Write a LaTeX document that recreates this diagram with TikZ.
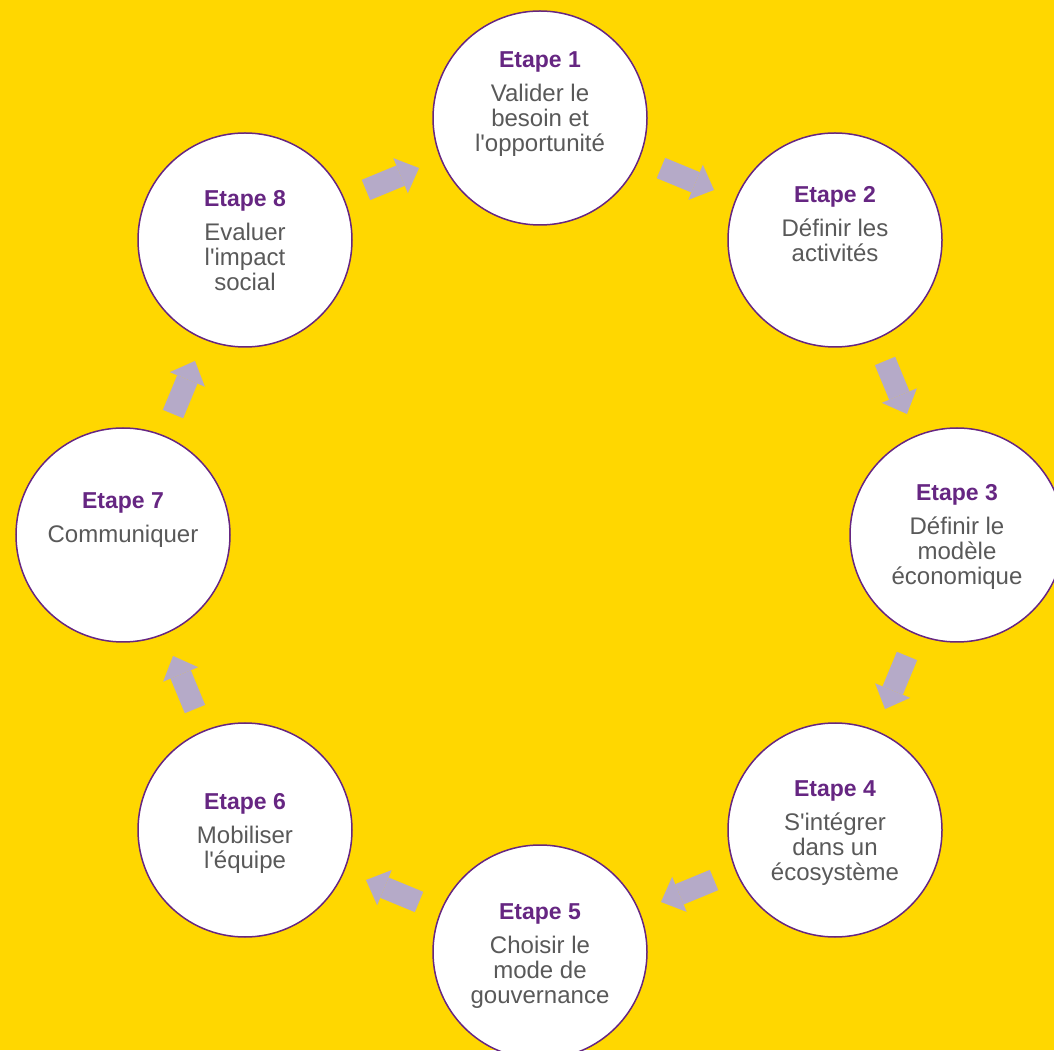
\documentclass[tikz,border=0pt]{standalone}
\usepackage{fontspec}
\setmainfont{Liberation Sans}
\usetikzlibrary{arrows.meta, calc, positioning}
\definecolor{etapeyellow}{RGB}{255,215,0}
\definecolor{etapepurple}{RGB}{102,38,130}
\definecolor{etapegray}{RGB}{89,89,89}
\definecolor{flowlilac}{RGB}{181,170,200}
\newcommand{\etapetitle}[1]{{\color{etapepurple}\bfseries\fontsize{23}{25}\selectfont Etape #1}}
\newcommand{\ap}{\textquotesingle}

\begin{document}
\begin{tikzpicture}[x=1pt, y=1pt,
  stepcircle/.style={circle, draw=etapepurple, line width=1.5pt, fill=white, minimum size=214pt, inner sep=0pt},
  steptext/.style={anchor=base, align=center, inner sep=0pt, text=etapegray, font=\fontsize{24}{25}\selectfont},
  flow/.style={draw=flowlilac, line width=22pt, -{Triangle[length=20pt, width=38pt, line width=0pt]}}]
  \useasboundingbox (0,0) rectangle (1054,1050);
  \fill[etapeyellow] (0,0) rectangle (1054,1050);

  % the eight steps round the ring
  \node[stepcircle] (s1) at (540,932) {};
  \node[stepcircle] (s2) at (835,810) {};
  \node[stepcircle] (s3) at (957,515) {};
  \node[stepcircle] (s4) at (835,220) {};
  \node[stepcircle] (s5) at (540,98) {};
  \node[stepcircle] (s6) at (245,220) {};
  \node[stepcircle] (s7) at (123,515) {};
  \node[stepcircle] (s8) at (245,810) {};

  % base = baseline of the last line
  \node[steptext] (t1) at ([yshift=-34pt]s1.center) {\etapetitle{1}\\[9pt]Valider le\\besoin et\\l\ap opportunité};
  \node[steptext] (t2) at ([yshift=-22pt]s2.center) {\etapetitle{2}\\[9pt]Définir les\\activités};
  \node[steptext] (t3) at ([yshift=-50pt]s3.center) {\etapetitle{3}\\[9pt]Définir le\\modèle\\économique};
  \node[steptext] (t4) at ([yshift=-50pt]s4.center) {\etapetitle{4}\\[9pt]S\ap intégrer\\dans un\\écosystème};
  \node[steptext] (t5) at ([yshift=-51pt]s5.center) {\etapetitle{5}\\[9pt]Choisir le\\mode de\\gouvernance};
  \node[steptext] (t6) at ([yshift=-38pt]s6.center) {\etapetitle{6}\\[9pt]Mobiliser\\l\ap équipe};
  \node[steptext] (t7) at ([yshift=-8pt]s7.center) {\etapetitle{7}\\[9pt]Communiquer};
  \node[steptext] (t8) at ([yshift=-51pt]s8.center) {\etapetitle{8}\\[9pt]Evaluer\\l\ap impact\\social};

  % arrows between neighbours
  \draw[flow] ($(s1)!0.41!(s2)$) -- ($(s1)!0.59!(s2)$);
  \draw[flow] ($(s2)!0.41!(s3)$) -- ($(s2)!0.59!(s3)$);
  \draw[flow] ($(s3)!0.41!(s4)$) -- ($(s3)!0.59!(s4)$);
  \draw[flow] ($(s4)!0.41!(s5)$) -- ($(s4)!0.59!(s5)$);
  \draw[flow] ($(s5)!0.41!(s6)$) -- ($(s5)!0.59!(s6)$);
  \draw[flow] ($(s6)!0.41!(s7)$) -- ($(s6)!0.59!(s7)$);
  \draw[flow] ($(s7)!0.41!(s8)$) -- ($(s7)!0.59!(s8)$);
  \draw[flow] ($(s8)!0.41!(s1)$) -- ($(s8)!0.59!(s1)$);
\end{tikzpicture}
\end{document}
